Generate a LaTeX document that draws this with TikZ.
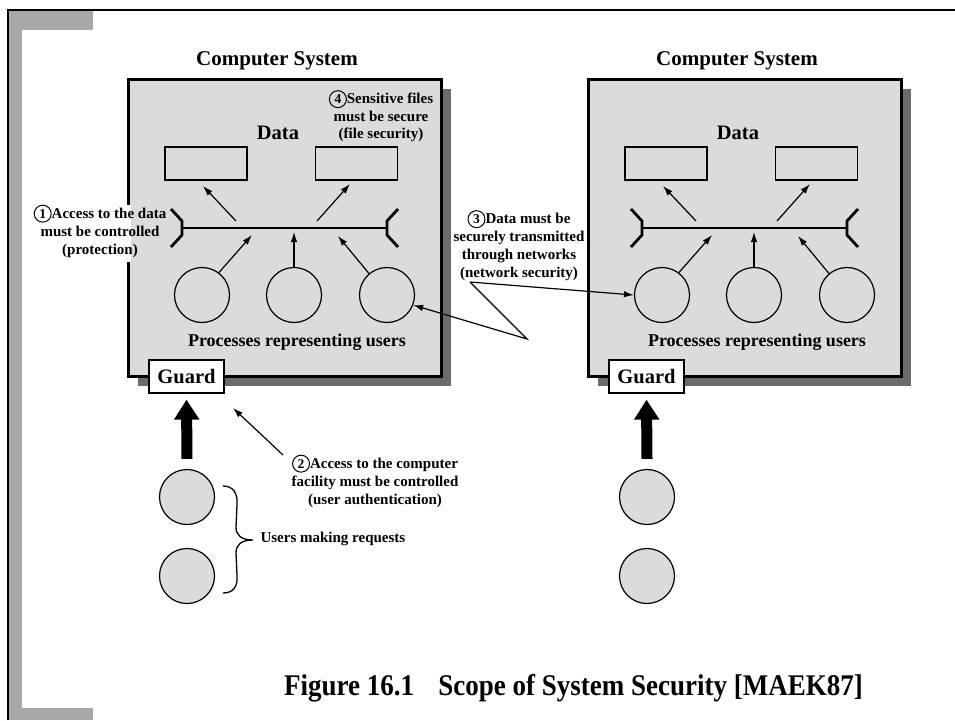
\documentclass[tikz,border=0pt]{standalone}
\usepackage{fontspec}
\usepackage{graphicx}
\setmainfont{Liberation Serif}
\usetikzlibrary{arrows.meta}
\definecolor{boxgray}{gray}{0.86}
\definecolor{shadowgray}{gray}{0.42}
\definecolor{framegray}{gray}{0.66}
\newcommand{\cnum}[1]{\tikz[baseline=(cn.base)]\node[circle,draw,line width=1pt,inner sep=0pt,minimum size=17pt,anchor=center,font=\fontsize{13.5}{13.5}\selectfont\bfseries](cn){#1};}
\begin{document}
\begin{tikzpicture}[x=1pt,y=-1pt,
  sysbox/.style={draw,line width=3pt,fill=boxgray,minimum width=313pt,minimum height=297pt,inner sep=0pt},
  proc/.style={circle,draw,line width=1.2pt,fill=boxgray,minimum size=55pt,inner sep=0pt},
  datarect/.style={draw,line width=1.2pt,fill=boxgray,minimum width=82pt,minimum height=33pt,inner sep=0pt},
  guardbox/.style={draw,line width=1.2pt,fill=white,minimum width=75pt,minimum height=33pt,inner sep=0pt,font=\fontsize{20.5}{22}\selectfont\bfseries},
  arr/.style={-{Latex[length=10pt,width=6.5pt]},line width=1.2pt},
  bus/.style={line width=2.8pt},
  bigarrow/.style={line width=11pt,-{Triangle[length=20pt,width=24pt]}},
  titletext/.style={font=\fontsize{21}{24}\selectfont\bfseries},
  datatext/.style={font=\fontsize{20.5}{24}\selectfont\bfseries},
  plabel/.style={font=\fontsize{18}{20}\selectfont\bfseries},
  lbl/.style={font=\fontsize{15}{18}\selectfont\bfseries,align=center}]
\useasboundingbox (0,0) rectangle (955,720);
% frame
\fill[framegray] (9,10) rectangle (22,720);
\fill[framegray] (9,10) rectangle (93,30);
\fill[framegray] (9,708) rectangle (93,720);
\draw[line width=2.6pt] (8,720) -- (8,10) -- (955,10);
% two systems
\foreach \s/\dx in {L/0,R/460}{
  \fill[shadowgray] (138+\dx,89) rectangle (451+\dx,386);
  \node[sysbox] (box\s) at (284.5+\dx,227.5) {};
  \node[titletext] (cs\s) at (277+\dx,61) {Computer System};
  \node[datatext] (data\s) at (278+\dx,133) {Data};
  \node[datarect] (ra\s) at (206+\dx,163.5) {};
  \node[datarect] (rb\s) at (356.5+\dx,163.5) {};
  \coordinate (bl\s) at (182+\dx,228);
  \coordinate (br\s) at (387+\dx,228);
  \draw[bus] (bl\s) -- (br\s);
  \draw[bus,line join=bevel] (171+\dx,209) -- (182+\dx,221) -- (182+\dx,235) -- (171+\dx,247);
  \draw[bus,line join=bevel] (398+\dx,209) -- (387+\dx,221) -- (387+\dx,235) -- (398+\dx,247);
  \coordinate (ua\s) at (236+\dx,221);
  \coordinate (ub\s) at (317+\dx,221);
  \coordinate (ta\s) at (203+\dx,186);
  \coordinate (tb\s) at (350+\dx,184);
  \draw[arr] (ua\s) -- (ta\s);
  \draw[arr] (ub\s) -- (tb\s);
  \node[proc] (pa\s) at (202+\dx,295) {};
  \node[proc] (pb\s) at (294+\dx,295) {};
  \node[proc] (pc\s) at (387+\dx,295) {};
  \coordinate (qa\s) at (252+\dx,235);
  \coordinate (qb\s) at (294+\dx,232);
  \coordinate (qc\s) at (338+\dx,236);
  \draw[arr] (pa\s.53) -- (qa\s);
  \draw[arr] (pb\s.north) -- (qb\s);
  \draw[arr] (pc\s.130) -- (qc\s);
  \node[plabel] (pl\s) at (297+\dx,342) {Processes representing users};
  \node[guardbox] (g\s) at (186.5+\dx,376.5) {Guard};
  \node[proc] (ua1\s) at (187+\dx,497) {};
  \node[proc] (ua2\s) at (187+\dx,576) {};
  \draw[bigarrow] ([yshift=10pt]ua1\s.north) -- ([yshift=-6pt]g\s.south);
}
% gap in left box border behind label 1
\fill[white] (123,205) rectangle (131,262);
% annotations
\node[lbl] (t1) at (100,231) {\cnum{1}Access to the data\\must be controlled\\(protection)};
\node[lbl,font=\fontsize{15}{17.5}\selectfont\bfseries] (t4) at (381,116) {\cnum{4}Sensitive files\\must be secure\\(file security)};
\node[lbl] (t3) at (519,245.5) {\cnum{3}Data must be\\securely transmitted\\through networks\\(network security)};
\node[lbl] (t2) at (375,481) {\cnum{2}Access to the computer\\facility must be controlled\\(user authentication)};
% network security pointers
\coordinate (na) at (470,282);
\coordinate (nb) at (527,339);
\draw[arr] (na) -- (paR.west);
\draw[arr,line join=miter] (na) -- (nb) -- (pcL.-21);
% user authentication pointer
\coordinate (sa) at (283,455);
\coordinate (sb) at (233,408);
\draw[arr] (sa) -- (sb);
% brace and users label
\coordinate (bt) at (253,540);
\draw[line width=1.3pt] (223,486) .. controls (233,486) and (238,493) .. (237,505) -- (236,527) .. controls (236,535) and (241,540) .. (bt) .. controls (241,540) and (236,545) .. (236,553) -- (237,575) .. controls (238,587) and (233,593) .. (223,593);
\node[lbl,anchor=west] (users) at (257,539) {Users making requests};
% caption
\node[font=\fontsize{30}{34}\selectfont\bfseries] (cap) at (573.5,688) {\scalebox{0.9}[1]{Figure 16.1\hspace{0.9em}Scope of System Security [MAEK87]}};
\end{tikzpicture}
\end{document}
